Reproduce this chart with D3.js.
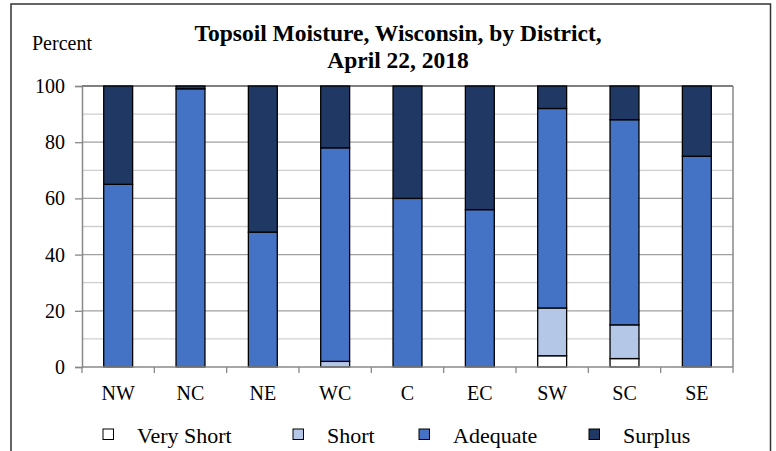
<!DOCTYPE html>
<html><head><meta charset="utf-8">
<script src="https://cdn.jsdelivr.net/npm/d3@7/dist/d3.min.js"></script>
<style>body{margin:0;background:#fff}svg{display:block}text{font-family:"Liberation Serif","Times New Roman",serif;fill:#000}</style>
</head><body>
<script>
const districts = ["NW","NC","NE","WC","C","EC","SW","SC","SE"];
const veryShort = [0,0,0,0,0,0,4,3,0];
const short     = [0,0,0,2,0,0,17,12,0];
const adequate  = [65,99,48,76,60,56,71,73,75];
const surplus   = [35,1,52,22,40,44,8,12,25];
const seriesNames = ["Very Short","Short","Adequate","Surplus"];
const seriesColors = ["#ffffff","#b4c7e7","#4472c4","#1f3864"];
const yTicks = [0,20,40,60,80,100];
const titleLines = ["Topsoil Moisture, Wisconsin, by District,","April 22, 2018"];

const W=776,H=451;
const m={l:82,r:43,t:86,b:84};
const svg=d3.select("body").append("svg").attr("width",W).attr("height",H);
// outer frame
svg.append("rect").attr("x",11).attr("y",4).attr("width",759.5).attr("height",460)
  .attr("fill","none").attr("stroke","#333").attr("stroke-width",1.5);

const x=d3.scaleBand().domain(districts).range([m.l,W-m.r]).paddingInner(0.6).paddingOuter(0.3);
const y=d3.scaleLinear().domain([0,100]).range([H-m.b,m.t]);
const x0=m.l,x1=W-m.r;

// minor gridlines
const g=svg.append("g");
g.selectAll("line.minor").data(d3.range(10,100,20)).enter().append("line")
  .attr("x1",x0).attr("x2",x1).attr("y1",d=>y(d)).attr("y2",d=>y(d))
  .attr("stroke","#cfcfcf").attr("stroke-width",1.3);
g.selectAll("line.major").data(yTicks.filter(d=>d>0&&d<100)).enter().append("line")
  .attr("x1",x0).attr("x2",x1).attr("y1",d=>y(d)).attr("y2",d=>y(d))
  .attr("stroke","#a0a0a0").attr("stroke-width",1.3);
// plot frame top/right
svg.append("line").attr("x1",x0).attr("x2",x1).attr("y1",y(100)).attr("y2",y(100)).attr("stroke","#555").attr("stroke-width",1.5);
svg.append("line").attr("x1",x1).attr("x2",x1).attr("y1",y(100)).attr("y2",y(0)).attr("stroke","#888").attr("stroke-width",1.5);

// stacked bars
const rows=districts.map((d,i)=>({d,"Very Short":veryShort[i],"Short":short[i],"Adequate":adequate[i],"Surplus":surplus[i]}));
const stack=d3.stack().keys(seriesNames)(rows);
stack.forEach((s,si)=>{
  svg.append("g").selectAll("rect").data(s.filter(p=>p[1]-p[0]>0)).enter().append("rect")
    .attr("x",p=>x(p.data.d)).attr("width",x.bandwidth())
    .attr("y",p=>y(p[1])).attr("height",p=>y(p[0])-y(p[1]))
    .attr("fill",seriesColors[si]).attr("stroke","#000").attr("stroke-width",1.3);
});

// y axis
const ya=svg.append("g").attr("transform",`translate(${x0},0)`)
  .call(d3.axisLeft(y).tickValues(yTicks).tickSize(7).tickPadding(10).tickFormat(d3.format("d")));
ya.select(".domain").attr("stroke","#888").attr("stroke-width",1.5);
ya.selectAll(".tick line").attr("stroke","#888").attr("stroke-width",1.3);
ya.selectAll("text").attr("font-size",20).attr("font-family","Liberation Serif").attr("fill","#000");

// x axis
const bounds=districts.map(d=>x(d)-x.step()*x.paddingInner()/2).concat([x1]);
const xa=svg.append("g");
xa.append("line").attr("x1",x0).attr("x2",x1).attr("y1",y(0)).attr("y2",y(0)).attr("stroke","#888").attr("stroke-width",1.5);
xa.selectAll("line.t").data(bounds).enter().append("line")
  .attr("x1",d=>d).attr("x2",d=>d).attr("y1",y(0)).attr("y2",y(0)+6).attr("stroke","#888").attr("stroke-width",1.3);
xa.selectAll("text").data(districts).enter().append("text")
  .attr("x",d=>x(d)+x.bandwidth()/2).attr("y",400).attr("text-anchor","middle")
  .attr("font-size",20).text(d=>d);

// title
svg.append("text").attr("x",398).attr("y",41).attr("text-anchor","middle")
  .attr("font-size",23.5).attr("font-weight","bold").text(titleLines[0]);
svg.append("text").attr("x",398).attr("y",68).attr("text-anchor","middle")
  .attr("font-size",23.5).attr("font-weight","bold").text(titleLines[1]);
svg.append("text").attr("x",32).attr("y",50).attr("font-size",20).text("Percent");

// legend
const legX=[103,293,419,589];
const lg=svg.append("g");
seriesNames.forEach((n,i)=>{
  lg.append("rect").attr("x",legX[i]).attr("y",429).attr("width",10.5).attr("height",10.5)
    .attr("fill",seriesColors[i]).attr("stroke","#000").attr("stroke-width",1);
  lg.append("text").attr("x",legX[i]+34).attr("y",443).attr("font-size",22).text(n);
});
</script>
</body></html>
